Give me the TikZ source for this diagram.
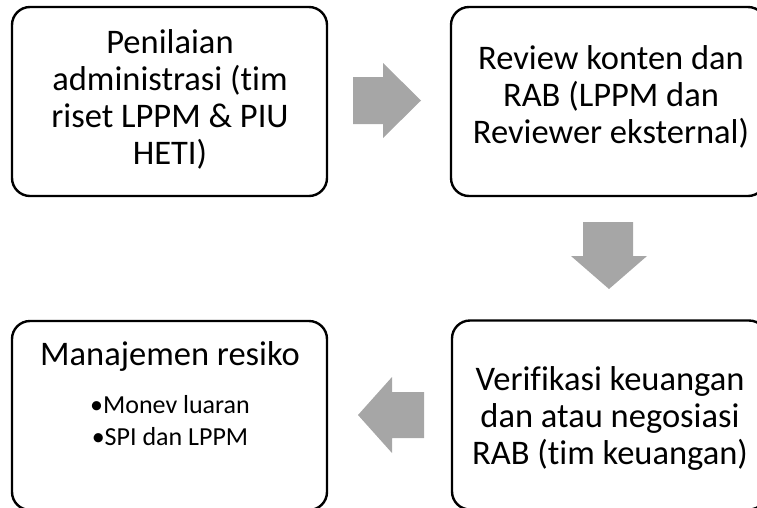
\documentclass[tikz,border=0pt]{standalone}
\usepackage{fontspec}
\setmainfont[Ligatures=NoCommon]{Carlito}
\begin{document}
\begin{tikzpicture}[x=1pt,y=-1pt,
  box/.style={draw=black, line width=2.4pt, rounded corners=18pt, minimum width=315pt, minimum height=189pt, inner sep=0pt},
  big/.style={align=center, font=\fontsize{34.5}{37}\selectfont, inner sep=0pt},
  small/.style={align=center, font=\fontsize{26}{32}\selectfont, inner sep=0pt},
  blockarrow/.style={fill=black!35, draw=none}]
\useasboundingbox (0,0) rectangle (757,507);
\begin{scope}
\clip (0,0) rectangle (757,507);
\node[box] (b1) at (169.5,101.5) {};
\node[box] (b2) at (608.5,101.5) {};
\node[box] (b3) at (609.5,415) {};
\node[box] (b4) at (169.5,415.5) {};
\end{scope}
\node[big] (t1) at (170,99) {Penilaian\\administrasi (tim\\riset LPPM \& PIU\\HETI)};
\node[big] (t2) at (611,97) {Review konten dan\\RAB (LPPM dan\\Reviewer eksternal)};
\node[big] (t3) at (610,418) {Verifikasi keuangan\\dan atau negosiasi\\RAB (tim keuangan)};
\node[big, anchor=base] (t4) at (170,365) {Manajemen resiko};
\node[small, anchor=base] (t5) at (170,413) {\textbullet Monev luaran};
\node[small, anchor=base] (t6) at (170,445) {\textbullet SPI dan LPPM};
% block arrows
\fill[blockarrow] (353,77) -- (383,77) -- (383,63) -- (421,100.5) -- (383,138) -- (383,124) -- (353,124) -- cycle;
\fill[blockarrow] (583,222) -- (633,222) -- (633,256) -- (647,256) -- (609,289) -- (571,256) -- (583,256) -- cycle;
\fill[blockarrow] (424,392) -- (392,392) -- (392,377) -- (358,415) -- (392,453) -- (392,438) -- (424,438) -- cycle;
\end{tikzpicture}
\end{document}
